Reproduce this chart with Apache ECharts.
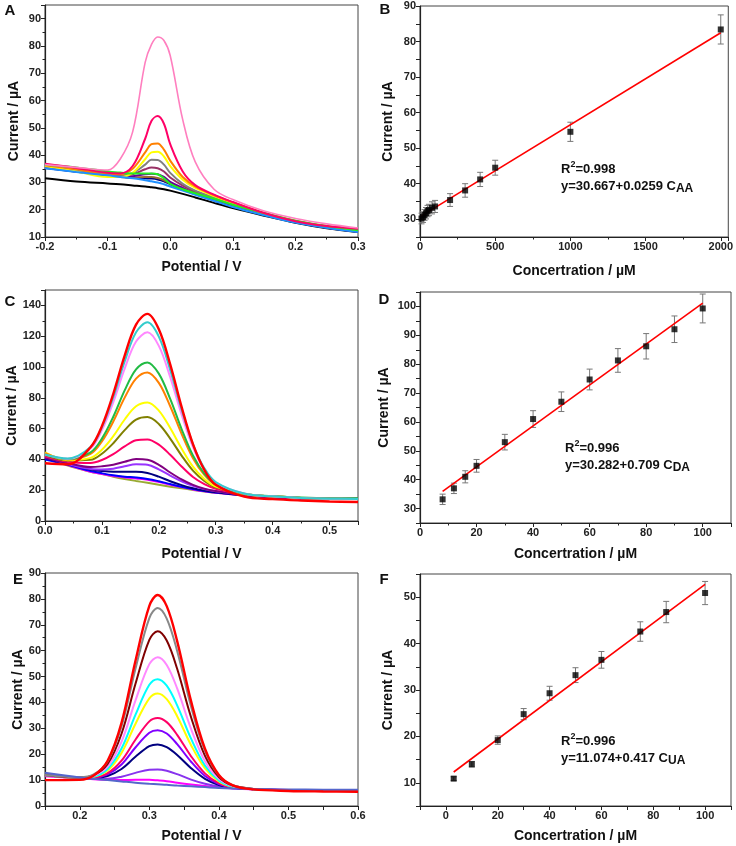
<!DOCTYPE html>
<html>
<head>
<meta charset="utf-8">
<script src="https://cdn.jsdelivr.net/npm/echarts@6/dist/echarts.min.js"></script>
<style>
html,body{margin:0;padding:0;background:#fff}
#main{width:736px;height:846px}
</style>
</head>
<body>
<div id="main"></div>
<script>
// ---- panel A : DPV of AA ----
var potA = [-0.2, -0.15, -0.1, -0.08, -0.06, -0.04, -0.03, -0.02, -0.01, 0, 0.02, 0.04, 0.07, 0.1, 0.15, 0.2, 0.25, 0.3];
var aBlack   = [31.5, 30.3, 29.6, 29.3, 28.9, 28.5, 28.2, 27.9, 27.5, 27, 25.8, 24.5, 22.5, 20.6, 17.8, 15.2, 13.2, 11.8];
var aNavy    = [35.3, 33.9, 32.6, 32.1, 31.7, 31.5, 31.4, 31.1, 30.4, 29.3, 27.4, 25.7, 23.4, 21.2, 18.1, 15.4, 13.4, 11.9];
var aBrown   = [35.6, 34.1, 32.6, 32, 31.8, 32, 32, 31.6, 30.8, 29.5, 27.6, 25.8, 23.5, 21.3, 18.2, 15.5, 13.5, 12];
var aPurple  = [35.5, 34, 32.5, 32.2, 32.3, 33, 33.2, 33, 32, 30.2, 28, 26, 23.6, 21.4, 18.2, 15.5, 13.5, 12];
var aPlum    = [35.8, 34.3, 32.8, 32.5, 33, 34.8, 35.5, 35.2, 34, 31.8, 28.8, 26.5, 24, 21.7, 18.4, 15.6, 13.6, 12.2];
var aGray    = [36, 34.5, 33, 32.8, 33.5, 36.5, 38.3, 38.2, 36.5, 33.5, 29.5, 27, 24.5, 22, 18.5, 15.7, 13.7, 12.3];
var aYellow  = [36, 34, 32, 32, 33.5, 38.5, 41, 41.2, 39.5, 36, 31, 28, 25, 22.5, 18.7, 15.8, 13.8, 12.5];
var aOrange  = [36.3, 34.8, 33, 33, 35, 41, 44, 44.3, 42, 38, 32, 28.5, 25.3, 22.7, 18.8, 16, 14, 12.7];
var aBlue    = [35.2, 33.8, 32.6, 32, 31.5, 30.8, 30.4, 30, 29.3, 28.5, 27, 25.5, 23.3, 21, 18, 15.3, 13.4, 11.8];
var aGreen   = [36.5, 35.5, 34, 33.6, 33.3, 33.3, 33.3, 33, 31.5, 29.5, 27.5, 26, 24, 21.8, 18.8, 16, 14, 12.5];
var aMagenta = [36.8, 35.3, 33.5, 33.3, 36, 46, 52.5, 54.3, 51.5, 44, 34, 29, 25.5, 22.8, 18.8, 15.8, 14, 13];
var aPink    = [36.5, 35.5, 34.5, 38.5, 48.5, 74, 80.5, 83.3, 82, 76.5, 53, 37.5, 27.5, 23.7, 19.5, 16.8, 14.8, 13.3];

// ---- panel B : AA calibration ----
var concB = [10, 20, 30, 40, 50, 60, 80, 100, 200, 300, 400, 500, 1000, 2000];
var curB  = [30.2, 30.6, 31.2, 31.7, 32.3, 32.6, 33.2, 33.6, 35.4, 38.1, 41.2, 44.5, 54.6, 83.4];
var errB  = [1.5, 1.5, 1.5, 1.6, 1.6, 1.6, 1.7, 1.7, 1.8, 1.9, 2, 2.1, 2.7, 4.1];
var fitBx = [10, 2000];
var fitBy = [30.93, 82.47];

// ---- panel C : DPV of DA ----
var potC = [0, 0.04, 0.08, 0.1, 0.12, 0.14, 0.16, 0.18, 0.2, 0.22, 0.24, 0.26, 0.28, 0.3, 0.35, 0.4, 0.45, 0.5, 0.55];
var cBase    = [41.5, 36, 32, 30.5, 28.8, 27.3, 26, 24.8, 23.5, 22.3, 21.2, 20.2, 19.2, 18.3, 16.6, 15.6, 15, 14.7, 14.6];
var cFuchsia = [41.5, 36.3, 32, 30.5, 29.2, 28.3, 27.6, 26.8, 25.3, 23.6, 22, 20.5, 19.3, 18.3, 16.6, 15.5, 14.8, 14.5, 14.4];
var cBlue    = [40, 36.5, 32.5, 31, 29.7, 28.8, 28.2, 27.3, 25.8, 24, 22.3, 20.8, 19.5, 18.5, 16.7, 15.5, 14.8, 14.5, 14.4];
var cNavy    = [41, 37, 33.5, 32.5, 32, 32, 32, 31.2, 28.8, 25.8, 23.3, 21.3, 19.8, 18.7, 16.8, 15.5, 14.7, 14.4, 14.3];
var cViolet  = [42, 37, 33.8, 33.5, 34, 35.5, 36.8, 36.5, 33.5, 29.5, 25.8, 22.8, 20.7, 19.3, 17, 15.6, 14.8, 14.4, 14.3];
var cPurple  = [41, 37.5, 35, 35.5, 36.5, 38.5, 40.2, 39.8, 36.5, 31.5, 27, 23.5, 21, 19.5, 17, 15.6, 14.8, 14.4, 14.3];
var cMagenta = [42, 38.5, 37.7, 39.6, 43.4, 48.5, 52.4, 53, 49.6, 43, 35.4, 28.6, 24, 21, 17.3, 15.8, 14.9, 14.5, 14.3];
var cOlive   = [43, 39.3, 39.7, 43.7, 50.5, 59, 65.8, 67.5, 63, 53.5, 42.5, 32.7, 26, 21.9, 17.5, 16, 15, 14.5, 14.3];
var cYellow  = [44.5, 39.5, 41, 46.3, 55.1, 65.9, 74.5, 77, 71.7, 60.4, 47.1, 35.3, 27.3, 22.4, 17.6, 16, 15, 14.5, 14.3];
var cOrange  = [44, 39.9, 43.6, 51.7, 64.6, 80.1, 92.5, 96.5, 89.7, 74.5, 56.6, 40.7, 29.9, 23.5, 17.6, 16, 15, 14.5, 14.3];
var cGreen   = [43.1, 40.1, 44.5, 53.5, 67.7, 84.8, 98.5, 103, 95.7, 79.3, 59.7, 42.5, 30.8, 23.8, 17.7, 16.2, 15.2, 14.8, 14.8];
var cOrchid  = [43.1, 40.4, 47.1, 59, 77.2, 98.9, 116.5, 122.5, 113.7, 93.4, 69.2, 48, 33.4, 24.9, 17.8, 16, 15, 14.5, 14.3];
var cCyan    = [43.2, 40.6, 48, 60.8, 80.4, 103.6, 122.5, 129, 119.7, 98.1, 72.4, 49.8, 34.3, 25.3, 17.8, 16, 15, 14.5, 14.3];
var cRed     = [37.5, 36.8, 47.9, 61.6, 82.6, 107.4, 127.5, 134.5, 124.5, 101.7, 74.1, 49.9, 33.2, 23.5, 15.8, 14.2, 13.3, 12.7, 12.3];

// ---- panel D : DA calibration ----
var concD = [8, 12, 16, 20, 30, 40, 50, 60, 70, 80, 90, 100];
var curD  = [33.2, 37, 41, 44.8, 53, 61, 67, 74.7, 81.3, 86.2, 92.1, 99.3];
var errD  = [1.8, 1.8, 2.1, 2.2, 2.7, 2.9, 3.4, 3.6, 4.1, 4.4, 4.6, 5];
var fitDx = [8, 100];
var fitDy = [35.95, 101.18];

// ---- panel E : DPV of UA ----
var potE = [0.15, 0.2, 0.22, 0.24, 0.26, 0.28, 0.3, 0.312, 0.325, 0.34, 0.36, 0.38, 0.4, 0.42, 0.45, 0.5, 0.55, 0.6];
var eFuchsia = [11.5, 10.7, 10.3, 10, 10, 10.1, 10.1, 9.9, 9.6, 9, 8.3, 7.7, 7.2, 6.8, 6.5, 6.2, 6.1, 6];
var eLilac   = [12, 10.9, 10.5, 10.5, 11.3, 12.8, 14, 14.1, 13.6, 12.3, 10.2, 8.6, 7.5, 6.9, 6.5, 6.1, 6, 6];
var eNavy    = [12, 10.9, 10.8, 11.6, 14.3, 19, 23.1, 23.8, 22.7, 19.7, 14.6, 10.5, 8.1, 7, 6.5, 6.1, 6, 6];
var eViolet  = [12, 10.9, 10.9, 12.2, 16, 22.6, 28.3, 29.3, 28, 23.9, 17.1, 11.6, 8.5, 7.1, 6.5, 6.1, 6, 6];
var eMagenta = [12, 10.9, 11.1, 12.7, 17.5, 25.6, 32.7, 34, 32.4, 27.5, 19.2, 12.6, 8.8, 7.2, 6.5, 6.1, 6, 6];
var eYellow  = [12, 10.9, 11.3, 13.7, 20.5, 31.7, 41.6, 43.5, 41.3, 34.7, 23.5, 14.5, 9.5, 7.4, 6.5, 6.1, 6, 6];
var eCyan    = [12, 11, 11.4, 14.3, 22.2, 35.2, 46.8, 49, 46.5, 38.9, 26, 15.6, 9.9, 7.5, 6.5, 6.1, 6, 6];
var ePink    = [12, 11, 11.7, 15.2, 24.8, 40.7, 54.8, 57.5, 54.5, 45.4, 29.8, 17.3, 10.5, 7.7, 6.6, 6.1, 6, 6];
var eMaroon  = [12, 11, 11.9, 16.2, 27.9, 47.1, 64.2, 67.5, 63.9, 53, 34.3, 19.4, 11.2, 7.9, 6.6, 6.1, 6, 6];
var eGray    = [12, 11.1, 12.2, 17.2, 30.7, 52.9, 72.6, 76.5, 72.4, 59.9, 38.4, 21.2, 11.8, 8, 6.6, 6.1, 6, 6];
var eSlate   = [12.8, 11, 10.5, 10, 9.5, 9, 8.6, 8.4, 8.2, 7.9, 7.6, 7.3, 7, 6.8, 6.6, 6.4, 6.3, 6.3];
var eRed     = [10, 10.1, 11.8, 17.5, 32.1, 56, 77.3, 81.5, 77.2, 63.7, 40.5, 22.1, 12, 8, 6.4, 5.8, 5.6, 5.5];

// ---- panel F : UA calibration ----
var concF = [3, 10, 20, 30, 40, 50, 60, 75, 85, 100];
var curF  = [10.9, 14, 19.2, 24.8, 29.3, 33.2, 36.5, 42.6, 46.8, 50.9];
var errF  = [0.4, 0.6, 0.9, 1.2, 1.5, 1.6, 1.8, 2.1, 2.3, 2.5];
var fitFx = [3, 100];
var fitFy = [12.33, 52.77];

var FONT = 'Liberation Sans';

function pairs(xs, ys) {
	var out = [];
	for (var i = 0; i < xs.length; i++) out.push([xs[i], ys[i]]);
	return out;
}
function bars(xs, ys, es) {
	var out = [];
	for (var i = 0; i < xs.length; i++) out.push([xs[i], ys[i] - es[i], ys[i] + es[i]]);
	return out;
}
function fmt(step, dec) {
	return function (v) {
		var r = v / step;
		if (Math.abs(r - Math.round(r)) > 1e-6) return '';
		if (Math.abs(v) < 1e-9) v = 0;
		return (+v).toFixed(dec);
	};
}
function axis(gi, min, max, interval, step, dec, minor, name, gap) {
	return {
		type: 'value', gridIndex: gi, min: min, max: max, interval: interval,
		name: name, nameLocation: 'middle', nameGap: gap,
		nameTextStyle: {fontSize: 14, fontWeight: 'bold', fontFamily: FONT, color: '#111'},
		axisLine: {show: true, onZero: false, lineStyle: {color: '#222', width: 1.2}},
		axisTick: {show: true, length: 4, lineStyle: {color: '#222'}},
		minorTick: {show: minor, splitNumber: 2, length: 2.5, lineStyle: {color: '#222'}},
		splitLine: {show: false},
		axisLabel: {fontSize: 11, fontWeight: 'bold', fontFamily: FONT, color: '#222', margin: 4, formatter: fmt(step, dec)}
	};
}

var grids = [
	{left: 45, top: 5, width: 313, height: 232},
	{left: 420, top: 6, width: 311, height: 231},
	{left: 45, top: 290, width: 313, height: 231},
	{left: 420, top: 292, width: 311, height: 231},
	{left: 45, top: 573, width: 313, height: 233},
	{left: 420, top: 574, width: 311, height: 232}
].map(function (g) {
	g.show = true; g.borderColor = '#444'; g.borderWidth = 1; g.backgroundColor = 'transparent';
	return g;
});

var xAxes = [
	axis(0, -0.2, 0.3, 0.1, 0.1, 1, true, 'Potential / V', 23),
	axis(1, 0, 2050, 500, 500, 0, true, 'Concertration / µM', 27),
	axis(2, 0, 0.55, 0.1, 0.1, 1, true, 'Potential / V', 26),
	axis(3, 0, 110, 20, 20, 0, true, 'Concertration / µM', 24),
	axis(4, 0.15, 0.6, 0.05, 0.1, 1, false, 'Potential / V', 23),
	axis(5, -10, 110, 10, 20, 0, false, 'Concertration / µM', 23)
];
var yAxes = [
	axis(0, 10, 95, 10, 10, 0, true, 'Current / µA', 24),
	axis(1, 25, 90, 5, 10, 0, false, 'Current / µA', 25),
	axis(2, 0, 150, 20, 20, 0, true, 'Current / µA', 26),
	axis(3, 25, 105, 5, 10, 0, false, 'Current / µA', 29),
	axis(4, 0, 90, 10, 10, 0, true, 'Current / µA', 19),
	axis(5, 5, 55, 5, 10, 0, false, 'Current / µA', 25)
];

var series = [];
function addCurves(gi, xs, list, colors, width) {
	for (var i = 0; i < list.length; i++) {
		series.push({
			type: 'line', xAxisIndex: gi, yAxisIndex: gi,
			data: pairs(xs, list[i]), smooth: 0.35,
			showSymbol: false, silent: true,
			lineStyle: {color: colors[i], width: width[i] || 2}
		});
	}
}
addCurves(0, potA,
	[aBlack, aNavy, aBrown, aPurple, aPlum, aGray, aYellow, aOrange, aBlue, aGreen, aMagenta, aPink],
	['#000000', '#000080', '#996633', '#660099', '#993366', '#808080', '#FFFF00', '#FF8000', '#1E90FF', '#22EE22', '#FF0066', '#FF7FBF'],
	[2, 2, 2, 2, 2, 2, 2, 2, 2, 2, 2, 1.6]);
addCurves(2, potC,
	[cBase, cFuchsia, cBlue, cNavy, cViolet, cPurple, cMagenta, cOlive, cYellow, cOrange, cGreen, cOrchid, cCyan, cRed],
	['#99AA33', '#FF00FF', '#0000FF', '#000080', '#9933FF', '#800080', '#FF0066', '#808000', '#FFFF00', '#FF8000', '#22BB44', '#FF88FF', '#33CCCC', '#FF0000'],
	[2, 2, 2, 2, 2, 2, 2, 2, 2, 2, 2, 2, 2, 2.4]);
addCurves(4, potE,
	[eFuchsia, eLilac, eNavy, eViolet, eMagenta, eYellow, eCyan, ePink, eMaroon, eGray, eSlate, eRed],
	['#FF00FF', '#8833EE', '#000080', '#8000FF', '#FF0066', '#FFFF00', '#00FFFF', '#FF88FF', '#800000', '#888888', '#5566CC', '#FF0000'],
	[2, 2, 2, 2, 2, 2, 2, 2, 2, 2, 2, 2.4]);

function errRender(params, api) {
	var x = api.value(0);
	var p1 = api.coord([x, api.value(1)]);
	var p2 = api.coord([x, api.value(2)]);
	var w = 3;
	var st = {stroke: '#777', lineWidth: 1};
	return {type: 'group', children: [
		{type: 'line', shape: {x1: p1[0], y1: p1[1], x2: p2[0], y2: p2[1]}, style: st},
		{type: 'line', shape: {x1: p1[0] - w, y1: p1[1], x2: p1[0] + w, y2: p1[1]}, style: st},
		{type: 'line', shape: {x1: p2[0] - w, y1: p2[1], x2: p2[0] + w, y2: p2[1]}, style: st}
	]};
}
function addCalib(gi, xs, ys, es, fx, fy) {
	series.push({
		type: 'custom', xAxisIndex: gi, yAxisIndex: gi, renderItem: errRender,
		data: bars(xs, ys, es), encode: {x: 0, y: [1, 2]}, silent: true, z: 2
	});
	series.push({
		type: 'line', xAxisIndex: gi, yAxisIndex: gi, data: pairs(fx, fy),
		showSymbol: false, silent: true, lineStyle: {color: '#FF0000', width: 1.6}, z: 3
	});
	series.push({
		type: 'scatter', xAxisIndex: gi, yAxisIndex: gi, data: pairs(xs, ys),
		symbol: 'rect', symbolSize: 6, itemStyle: {color: '#000'}, silent: true, z: 4
	});
}
addCalib(1, concB, curB, errB, fitBx, fitBy);
addCalib(3, concD, curD, errD, fitDx, fitDy);
addCalib(5, concF, curF, errF, fitFx, fitFy);

var rich = {
	b: {fontSize: 13, fontWeight: 'bold', fontFamily: FONT, fill: '#111', lineHeight: 18},
	sup: {fontSize: 9, fontWeight: 'bold', fontFamily: FONT, fill: '#111', lineHeight: 10, verticalAlign: 'top'},
	sub: {fontSize: 12, fontWeight: 'bold', fontFamily: FONT, fill: '#111', lineHeight: 9, verticalAlign: 'bottom'}
};
function note(x, y, text) {
	return {type: 'text', x: x, y: y, silent: true,
		style: {text: text, rich: rich, align: 'left', verticalAlign: 'middle'}};
}
function letter(x, y, t) {
	return {type: 'text', x: x, y: y, silent: true,
		style: {text: t, font: 'bold 15px "' + FONT + '"', fill: '#111', align: 'center', verticalAlign: 'middle'}};
}

var chart = echarts.init(document.getElementById('main'));
chart.setOption({
	animation: false,
	backgroundColor: '#fff',
	grid: grids,
	xAxis: xAxes,
	yAxis: yAxes,
	series: series,
	graphic: [
		letter(10, 11, 'A'), letter(385, 10, 'B'),
		letter(10, 302, 'C'), letter(384, 300, 'D'),
		letter(18, 580, 'E'), letter(384, 580, 'F'),
		note(561, 169, '{b|R}{sup|2}{b|=0.998}'),
		note(561, 186, '{b|y=30.667+0.0259 C}{sub|AA}'),
		note(565, 448, '{b|R}{sup|2}{b|=0.996}'),
		note(565, 465, '{b|y=30.282+0.709 C}{sub|DA}'),
		note(561, 741, '{b|R}{sup|2}{b|=0.996}'),
		note(561, 758, '{b|y=11.074+0.417 C}{sub|UA}')
	]
});
</script>
</body>
</html>
